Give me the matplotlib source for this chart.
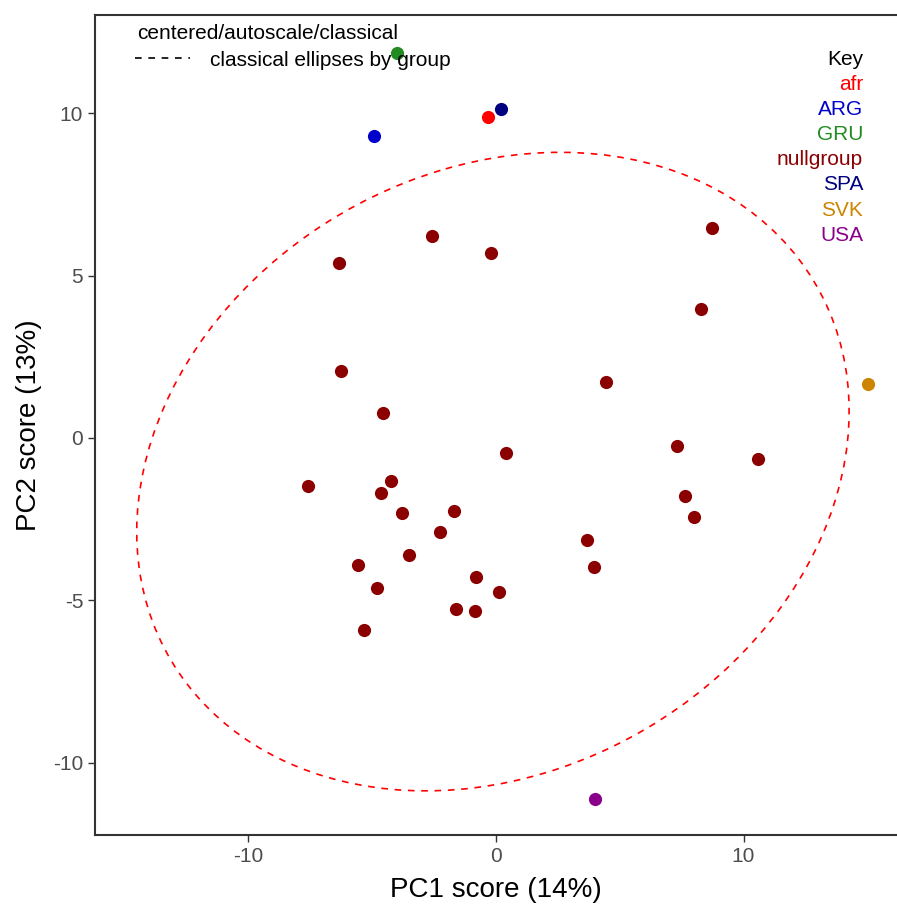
import numpy as np
import matplotlib
matplotlib.use("Agg")
import matplotlib.pyplot as plt
from matplotlib.patches import Ellipse

plt.rcParams['font.family'] = ['Liberation Sans', 'DejaVu Sans']
plt.rcParams['axes.unicode_minus'] = False

# group points (one per group)
group_names = ['afr', 'ARG', 'GRU', 'SPA', 'SVK', 'USA']
group_pc1 = [-0.32, -4.93, -4.0, 0.20, 15.03, 4.0]
group_pc2 = [9.88, 9.29, 11.85, 10.12, 1.66, -11.11]

# nullgroup points
null_pc1 = [-2.59, -6.34, -0.20, 8.73, 8.28, -6.26, 4.44, -4.57, 0.40, 7.31,
            10.59, -7.60, -4.24, -4.65, -3.80, -1.70, -2.26, 7.64, 8.00, 3.68,
            3.96, -3.52, -5.58, -4.81, -0.81, 0.12, -1.62, -0.85, -5.33]
null_pc2 = [6.22, 5.38, 5.69, 6.46, 3.97, 2.06, 1.72, 0.77, -0.46, -0.25,
            -0.65, -1.48, -1.32, -1.69, -2.31, -2.25, -2.89, -1.78, -2.43, -3.14,
            -3.97, -3.60, -3.91, -4.62, -4.28, -4.74, -5.26, -5.32, -5.91]

key_labels = ['afr', 'ARG', 'GRU', 'nullgroup', 'SPA', 'SVK', 'USA']
key_colors = {'afr': '#FF0000', 'ARG': '#0000CD', 'GRU': '#228B22',
              'nullgroup': '#8B0000', 'SPA': '#000080', 'SVK': '#CD8500',
              'USA': '#8B008B'}

xticks = [-10, 0, 10]
yticks = [-10, -5, 0, 5, 10]

fig = plt.figure(figsize=(8.97, 9.13), dpi=100)
ax = fig.add_axes([95 / 897, 1 - 835 / 913, 1 - 95 / 897, 820 / 913])

# classical ellipse for nullgroup (covariance based)
pts = np.vstack([null_pc1, null_pc2])
centre = pts.mean(axis=1)
cov = np.cov(pts)
vals, vecs = np.linalg.eigh(cov)
scale = 2.68
angle = np.degrees(np.arctan2(vecs[1, 1], vecs[0, 1]))
ell = Ellipse(centre, 2 * scale * np.sqrt(vals[1]), 2 * scale * np.sqrt(vals[0]),
              angle=angle, fill=False, edgecolor='#FF0000', lw=1.2,
              linestyle=(0, (4, 4)))
ax.add_patch(ell)

ax.scatter(null_pc1, null_pc2, s=90, color=key_colors['nullgroup'], zorder=3, lw=0)
for name, x, y in zip(group_names, group_pc1, group_pc2):
    ax.scatter([x], [y], s=90, color=key_colors[name], zorder=3, lw=0)

ax.set_xlim(-16.2, 16.2)
ax.set_ylim(-12.22, 13.02)
ax.set_xticks(xticks)
ax.set_yticks(yticks)
ax.tick_params(labelsize=15, labelcolor='#4D4D4D', color='#333333', length=5, width=1)
ax.spines['right'].set_visible(False)
for s in ['left', 'top', 'bottom']:
    ax.spines[s].set_color('#333333')
    ax.spines[s].set_linewidth(1.5)
ax.set_xlabel('PC1 score (14%)', fontsize=20, labelpad=8)
ax.set_ylabel('PC2 score (13%)', fontsize=20, labelpad=8)

# annotation in the top left corner
ax.text(0.0524, 0.978, 'centered/autoscale/classical', transform=ax.transAxes,
        fontsize=15, va='center', ha='left')
ax.plot([0.05, 0.1185], [0.9476, 0.9476], transform=ax.transAxes, color='black',
        lw=1.2, linestyle=(0, (4, 4)))
ax.text(0.1434, 0.945, 'classical ellipses by group', transform=ax.transAxes,
        fontsize=15, va='center', ha='left')

# the key
ax.text(0.9576, 0.9463, 'Key', transform=ax.transAxes, fontsize=15,
        ha='right', va='center')
for i, lab in enumerate(key_labels):
    ax.text(0.9576, 0.9463 - (i + 1) * 0.0307, lab, transform=ax.transAxes,
            fontsize=15, ha='right', va='center', color=key_colors[lab])

fig.savefig('out.png', dpi=100)
